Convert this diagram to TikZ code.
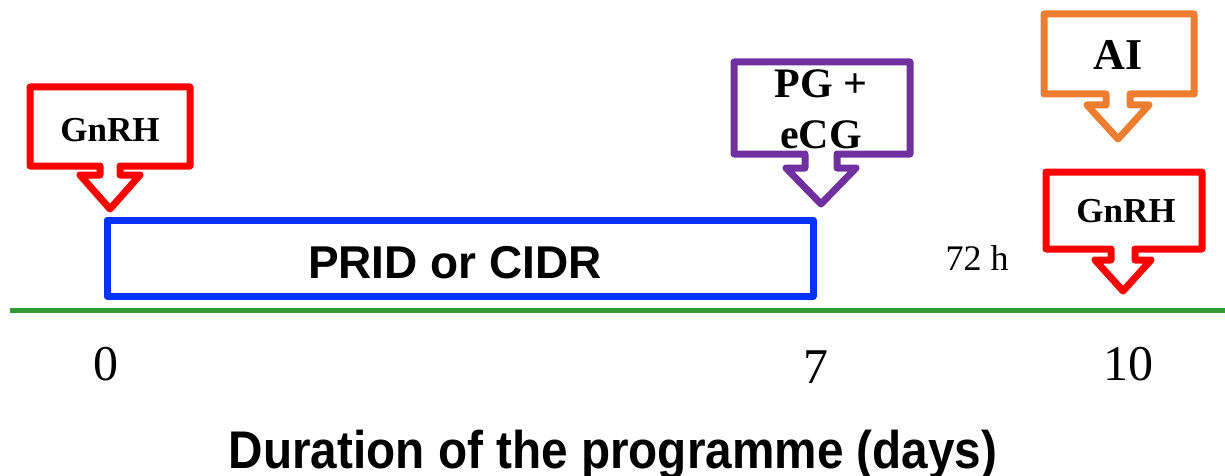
\documentclass[tikz,border=0pt]{standalone}
\usepackage{fontspec}
\setmainfont{Liberation Serif}
\setsansfont{Liberation Sans}
\definecolor{gnrhred}{RGB}{255,0,0}
\definecolor{pgpurple}{RGB}{112,48,160}
\definecolor{aiorange}{RGB}{237,125,49}
\definecolor{pridblue}{RGB}{0,51,255}
\definecolor{axisgreen}{RGB}{51,153,51}
\tikzset{
 callout/.style={line width=7pt, line join=round},
 lbl/.style={inner sep=0pt, anchor=base},
}
\begin{document}
\begin{tikzpicture}[x=1pt,y=-1pt]
 \useasboundingbox (0,0) rectangle (1225,476);

 %Axis
 \draw[axisgreen, line width=5pt] (10,310) -- (1225,310);

 %Insert
 \draw[pridblue, line width=7pt, line join=round] (107,220) rectangle (813,296);
 \node (prid) [lbl, font=\sffamily\bfseries\fontsize{46}{50}\selectfont] at (455,278) {PRID or CIDR};

 %Callouts
 \foreach \xl/\xr/\yt/\yb/\xc/\sw/\ys/\hw/\yp/\col in {
   30/190/87/166/110/10/175/30/209/gnrhred,
   734/910/62/154/821/16/168/35/204/pgpurple,
   1044/1194/14/94/1118/12/105/31/139/aiorange,
   1046/1202/172/249/1123/12/260/28/291/gnrhred}
 \draw[callout,\col] (\xl,\yt) -- (\xr,\yt) -- (\xr,\yb) -- (\xc+\sw,\yb) -- (\xc+\sw,\ys)
   -- (\xc+\hw,\ys) -- (\xc,\yp) -- (\xc-\hw,\ys) -- (\xc-\sw,\ys) -- (\xc-\sw,\yb)
   -- (\xl,\yb) -- cycle;

 %Name
 \node (gnrhstart) [lbl, font=\bfseries\fontsize{35}{40}\selectfont] at (110,141) {GnRH};
 \node (pg) [lbl, font=\bfseries\fontsize{42}{48}\selectfont] at (821,98) {PG +};
 \node (ecg) [lbl, font=\bfseries\fontsize{42}{48}\selectfont] at (821,148) {eCG};
 \node (ai) [lbl, font=\bfseries\fontsize{44}{50}\selectfont] at (1118,70) {AI};
 \node (gnrhend) [lbl, font=\bfseries\fontsize{35}{40}\selectfont] at (1126,222) {GnRH};
 \node (interval) [lbl, font=\fontsize{36}{40}\selectfont] at (977,270) {72 h};

 %Days
 \foreach \x/\y/\day in {106/380/0, 816/383/7, 1128/380/10}
 \node (day\day) [lbl, font=\fontsize{50}{56}\selectfont] at (\x,\y) {\day};

 \node (duration) [lbl, xscale=0.9, font=\sffamily\bfseries\fontsize{53}{58}\selectfont] at (613,468) {Duration of the programme (days)};
\end{tikzpicture}
\end{document}
